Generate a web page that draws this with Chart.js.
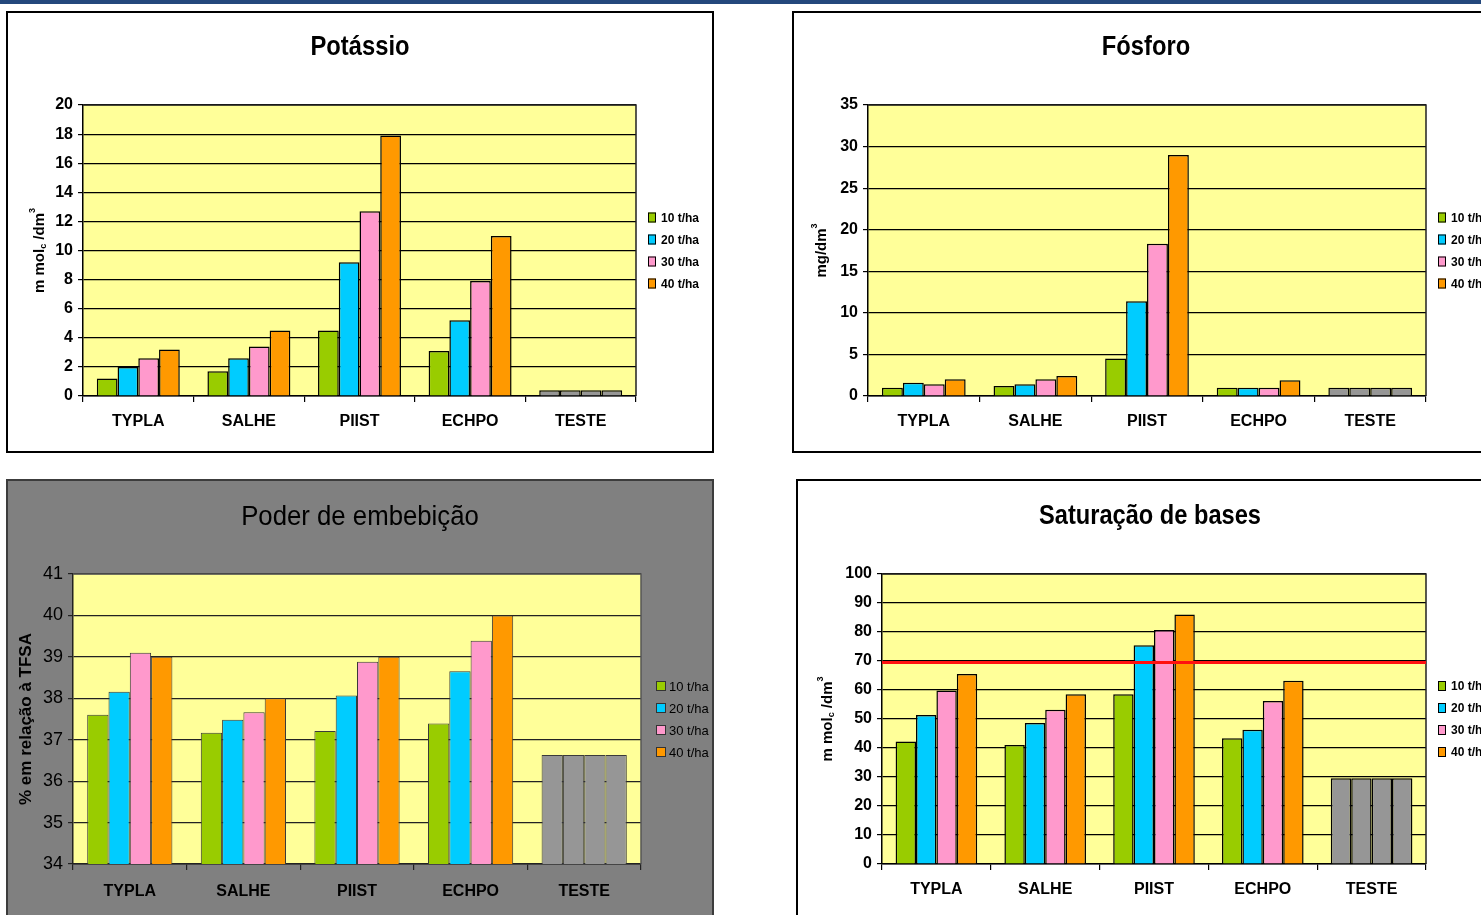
<!DOCTYPE html>
<html lang="pt">
<head>
<meta charset="utf-8">
<title>Potássio, Fósforo, Poder de embebição e Saturação de bases</title>
<script src="https://cdn.jsdelivr.net/npm/chart.js@4.4.1/dist/chart.umd.min.js"></script>
<style>
  html, body { margin: 0; padding: 0; width: 1481px; height: 915px; overflow: hidden; background: #fff; }
  .topbar { position: absolute; left: 0; top: 0; width: 1481px; height: 4px; background: #24487c; }
  .panel { position: absolute; box-sizing: border-box; border: 2px solid #000; background: #fff; overflow: hidden; }
  .panel canvas { display: block; }
  #p1 { left: 6px; top: 11px; width: 708px; height: 442px; }
  #p2 { left: 792px; top: 11px; width: 708px; height: 442px; }
  #p3 { left: 6px; top: 479px; width: 708px; height: 450px; background: #808080; border-color: #3c3c3c; }
  #p4 { left: 796px; top: 479px; width: 708px; height: 450px; }
</style>
</head>
<body>
<div class="topbar"></div>
<div class="panel" id="p1"><canvas id="c1" width="704" height="438"></canvas></div>
<div class="panel" id="p2"><canvas id="c2" width="704" height="438"></canvas></div>
<div class="panel" id="p3"><canvas id="c3" width="704" height="446"></canvas></div>
<div class="panel" id="p4"><canvas id="c4" width="704" height="446"></canvas></div>
<script>
// ---- categories and doses ----
const categories = ['TYPLA', 'SALHE', 'PIIST', 'ECHPO', 'TESTE'];
const doses = ['10 t/ha', '20 t/ha', '30 t/ha', '40 t/ha'];

// ---- Potássio (mmolc/dm³) ----
const potassio10 = [1.2, 1.7, 4.5, 3.1, 0.4];
const potassio20 = [2.0, 2.6, 9.2, 5.2, 0.4];
const potassio30 = [2.6, 3.4, 12.7, 7.9, 0.4];
const potassio40 = [3.2, 4.5, 17.9, 11.0, 0.4];
const potassioTicks = { min: 0, max: 20, step: 2 };

// ---- Fósforo (mg/dm³) ----
const fosforo10 = [1.0, 1.2, 4.5, 1.0, 1.0];
const fosforo20 = [1.6, 1.4, 11.4, 1.0, 1.0];
const fosforo30 = [1.4, 2.0, 18.3, 1.0, 1.0];
const fosforo40 = [2.0, 2.4, 29.0, 1.9, 1.0];
const fosforoTicks = { min: 0, max: 35, step: 5 };

// ---- Poder de embebição (% em relação à TFSA) ----
const embebicao10 = [37.6, 37.17, 37.21, 37.39, 36.63];
const embebicao20 = [38.16, 37.48, 38.07, 38.65, 36.63];
const embebicao30 = [39.1, 37.66, 38.88, 39.39, 36.63];
const embebicao40 = [39.0, 38.0, 39.0, 40.0, 36.63];
const embebicaoTicks = { min: 34, max: 41, step: 1 };

// ---- Saturação de bases ----
const saturacao10 = [42.2, 41.0, 58.5, 43.4, 29.6];
const saturacao20 = [51.4, 48.6, 75.4, 46.3, 29.6];
const saturacao30 = [59.8, 53.2, 80.7, 56.2, 29.6];
const saturacao40 = [65.5, 58.5, 86.0, 63.2, 29.6];
const saturacaoTicks = { min: 0, max: 100, step: 10 };
const saturacaoReferencia = [69.5];

// ---- styling ----
const doseColors = ['#99CC00', '#00CCFF', '#FF99CC', '#FF9900'];
const controlColor = '#969696';
const plotYellow = '#FFFF99';
const SANS = "'Liberation Sans', Arial, Helvetica, sans-serif";

function buildDatasets(series, borderColor, borderWidth) {
  return series.map((vals, i) => ({
    label: doses[i],
    data: vals,
    backgroundColor: categories.map(c => c === 'TESTE' ? controlColor : doseColors[i]),
    borderColor: borderColor,
    borderWidth: borderWidth,
    borderSkipped: 'start',
    categoryPercentage: 0.75,
    barPercentage: 1.0
  }));
}

function buildChart(id, o) {
  // plot-area background, frame, heading, axis title, legend and reference line
  const decor = {
    id: 'decor_' + id,
    beforeDraw(chart) {
      const { ctx, chartArea: a } = chart;
      ctx.save();
      ctx.fillStyle = plotYellow;
      ctx.fillRect(a.left, a.top, a.right - a.left, a.bottom - a.top);
      ctx.restore();
    },
    beforeDatasetsDraw(chart) {
      const { ctx, chartArea: a } = chart;
      ctx.save();
      ctx.strokeStyle = o.frame;
      ctx.lineWidth = 1.5;
      ctx.beginPath();
      ctx.moveTo(a.left, a.top);
      ctx.lineTo(a.right, a.top);
      ctx.lineTo(a.right, a.bottom);
      ctx.stroke();
      ctx.restore();
    },
    afterDatasetsDraw(chart) {
      if (!o.refLine) return;
      const { ctx, chartArea: a, scales: { y } } = chart;
      ctx.save();
      ctx.strokeStyle = '#FF1010';
      ctx.lineWidth = 3;
      o.refLine.forEach(v => {
        const py = y.getPixelForValue(v);
        ctx.beginPath();
        ctx.moveTo(a.left, py);
        ctx.lineTo(a.right, py);
        ctx.stroke();
      });
      ctx.restore();
    },
    afterDraw(chart) {
      const { ctx, chartArea: a, width } = chart;
      // heading (slightly condensed)
      ctx.save();
      ctx.fillStyle = '#000';
      ctx.font = o.titleFont;
      ctx.textAlign = 'center';
      ctx.textBaseline = 'middle';
      ctx.translate(width / 2, o.titleY);
      ctx.scale(o.titleScaleX || 1, 1);
      ctx.fillText(o.title, 0, 0);
      ctx.restore();

      // rotated y-axis title with sub/superscripts
      ctx.save();
      ctx.translate(o.yTitleX, (a.top + a.bottom) / 2);
      ctx.rotate(-Math.PI / 2);
      ctx.fillStyle = '#000';
      ctx.textBaseline = 'middle';
      const widths = o.yTitle.map(p => {
        ctx.font = `bold ${p.size}px ${SANS}`;
        return ctx.measureText(p.text).width;
      });
      let x = -widths.reduce((s, w) => s + w, 0) / 2;
      o.yTitle.forEach((p, i) => {
        ctx.font = `bold ${p.size}px ${SANS}`;
        ctx.fillText(p.text, x, p.shift || 0);
        x += widths[i];
      });
      ctx.restore();

      // legend
      const L = o.legend;
      const y0 = (a.top + a.bottom) / 2 - (doses.length - 1) * L.spacing / 2;
      ctx.save();
      ctx.font = L.font;
      ctx.textBaseline = 'middle';
      doses.forEach((d, i) => {
        const cy = y0 + i * L.spacing;
        const bx = a.right + L.offset;
        ctx.fillStyle = doseColors[i];
        ctx.fillRect(bx, cy - L.boxH / 2, L.boxW, L.boxH);
        ctx.strokeStyle = L.boxStroke || '#000';
        ctx.lineWidth = 1;
        ctx.strokeRect(bx + 0.5, cy - L.boxH / 2 + 0.5, L.boxW - 1, L.boxH - 1);
        ctx.fillStyle = '#000';
        ctx.fillText(d, bx + L.boxW + L.gap, cy + 1);
      });
      ctx.restore();
    }
  };

  return new Chart(document.getElementById(id), {
    type: 'bar',
    data: { labels: categories, datasets: buildDatasets(o.series, o.barBorder, o.barBorderWidth) },
    plugins: [decor],
    options: {
      responsive: false,
      animation: false,
      devicePixelRatio: 1,
      layout: { padding: o.padding },
      plugins: {
        legend: { display: false },
        tooltip: { enabled: false },
        title: { display: false }
      },
      scales: {
        x: {
          offset: true,
          afterFit: s => { s.height = o.xHeight; },
          grid: { offset: true, drawOnChartArea: false, drawTicks: true, tickLength: 6, color: o.axisColor, lineWidth: 1.2 },
          border: { color: o.axisColor, width: 1.5 },
          ticks: { color: '#000', font: o.xFont, padding: o.xPad }
        },
        y: {
          min: o.ticks.min,
          max: o.ticks.max,
          afterFit: s => { s.width = o.yWidth; },
          grid: { color: o.gridColor, lineWidth: 1.2, drawTicks: true, tickLength: 5 },
          border: { color: o.axisColor, width: 1.5 },
          ticks: { stepSize: o.ticks.step, color: '#000', font: o.yFont, padding: 5 }
        }
      }
    }
  });
}

const boldMolc = [
  { text: 'm mol', size: 15 },
  { text: 'c', size: 9, shift: 4 },
  { text: ' /dm', size: 15 },
  { text: '3', size: 9, shift: -7 }
];

const tickBold = { family: SANS, size: 16, weight: 'bold' };

buildChart('c1', {
  series: [potassio10, potassio20, potassio30, potassio40],
  ticks: potassioTicks,
  title: 'Potássio', titleFont: `bold 27px ${SANS}`, titleScaleX: 0.88, titleY: 35,
  padding: { left: 0, right: 76, top: 92, bottom: 0 },
  yWidth: 75, xHeight: 55, xPad: 10,
  xFont: tickBold, yFont: tickBold,
  yTitle: boldMolc, yTitleX: 32,
  legend: { offset: 12, spacing: 22, boxW: 8, boxH: 10, gap: 5, font: `bold 12px ${SANS}` },
  barBorder: '#000', barBorderWidth: 1.5,
  axisColor: '#000', gridColor: '#000', frame: '#222'
});

buildChart('c2', {
  series: [fosforo10, fosforo20, fosforo30, fosforo40],
  ticks: fosforoTicks,
  title: 'Fósforo', titleFont: `bold 27px ${SANS}`, titleScaleX: 0.88, titleY: 35,
  padding: { left: 0, right: 72, top: 92, bottom: 0 },
  yWidth: 74, xHeight: 55, xPad: 10,
  xFont: tickBold, yFont: tickBold,
  yTitle: [{ text: 'mg/dm', size: 15 }, { text: '3', size: 9, shift: -7 }], yTitleX: 28,
  legend: { offset: 12, spacing: 22, boxW: 8, boxH: 10, gap: 5, font: `bold 12px ${SANS}` },
  barBorder: '#000', barBorderWidth: 1.5,
  axisColor: '#000', gridColor: '#000', frame: '#222'
});

buildChart('c3', {
  series: [embebicao10, embebicao20, embebicao30, embebicao40],
  ticks: embebicaoTicks,
  title: 'Poder de embebição', titleFont: `28px ${SANS}`, titleScaleX: 0.92, titleY: 36,
  padding: { left: 0, right: 71, top: 93, bottom: 8 },
  yWidth: 65, xHeight: 55, xPad: 12,
  xFont: { family: SANS, size: 16, weight: 'bold' },
  yFont: { family: SANS, size: 18, weight: 'normal' },
  yTitle: [{ text: '% em relação à TFSA', size: 17 }], yTitleX: 18,
  legend: { offset: 15, spacing: 22, boxW: 10, boxH: 10, gap: 3, font: `13px ${SANS}`, boxStroke: '#333' },
  barBorder: '#3a3a3a', barBorderWidth: 1,
  axisColor: '#222', gridColor: '#222', frame: '#555'
});

buildChart('c4', {
  series: [saturacao10, saturacao20, saturacao30, saturacao40],
  ticks: saturacaoTicks,
  title: 'Saturação de bases', titleFont: `bold 27px ${SANS}`, titleScaleX: 0.875, titleY: 36,
  padding: { left: 0, right: 76, top: 93, bottom: 8 },
  yWidth: 84, xHeight: 55, xPad: 10,
  xFont: tickBold, yFont: tickBold,
  yTitle: boldMolc, yTitleX: 30,
  legend: { offset: 12, spacing: 22, boxW: 8, boxH: 10, gap: 5, font: `bold 12px ${SANS}` },
  barBorder: '#000', barBorderWidth: 1.5,
  axisColor: '#000', gridColor: '#000', frame: '#222',
  refLine: saturacaoReferencia
});
</script>
</body>
</html>
